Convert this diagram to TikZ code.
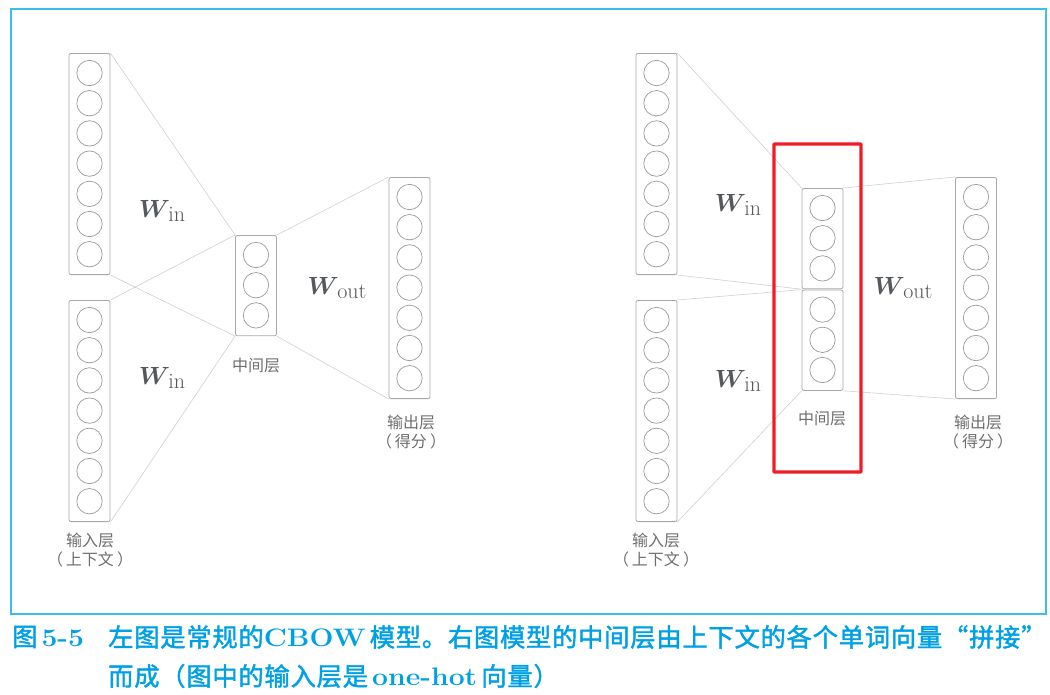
\documentclass[tikz,border=0pt]{standalone}
\usepackage{fontspec}
\usepackage{bm}
\newfontfamily\cjk{Noto Sans CJK SC}
\newfontfamily\cjkmed[FakeBold=1.6,LetterSpace=3]{Noto Sans CJK SC}
\definecolor{boxgray}{HTML}{A8A8A8}
\definecolor{circgray}{HTML}{9A9A9A}
\definecolor{linegray}{HTML}{CFCFCF}
\definecolor{labgray}{HTML}{6E6E6E}
\definecolor{wgray}{HTML}{55585C}
\definecolor{capblue}{RGB}{0,160,228}
\definecolor{frameblue}{RGB}{60,190,235}
\definecolor{hired}{HTML}{EE1C25}
\tikzset{
  colbox/.style={draw=boxgray, rounded corners=2pt, minimum width=41pt, inner sep=0pt, line width=0.8pt},
  unit/.style={draw=circgray, circle, minimum size=25.4pt, inner sep=0pt, line width=0.7pt},
  conn/.style={draw=linegray, line width=0.6pt},
  lab/.style={text=labgray, font=\cjk\fontsize{16}{18}\selectfont, inner sep=0pt},
  wlab/.style={text=wgray, inner sep=0pt},
  captext/.style={text=capblue, inner sep=0pt, anchor=west}
}
\newcommand\nncol[4]{%
  \pgfmathsetmacro\hh{40+30.2*(#4-1)}%
  \node[colbox, minimum height=\hh pt, anchor=north] (#1) at (#2,#3) {};
  \foreach \k in {1,...,#4} {\node[unit] (#1-\k) at (#2,{#3+20+30.2*(\k-1)}) {};}
}
\newcommand\Wsym[1]{{\fontsize{29}{30}\selectfont$\bm{W}$}\kern-1.5pt\raisebox{-4pt}{\fontsize{22}{24}\selectfont #1}}
\newcommand\pl{\kern3pt}
\newcommand\latw[1]{\scalebox{1.12}[1]{\rmfamily\bfseries #1}}
\begin{document}
\begin{tikzpicture}[x=1pt,y=-1pt]
\useasboundingbox (0,0) rectangle (1050,694);
\draw[frameblue, line width=1.3pt] (11,9) rectangle (1046,614);
% ---------- left diagram
\nncol{Lin1}{89.5}{53}{7}
\nncol{Lin2}{89.5}{300}{7}
\nncol{Lmid}{256}{235}{3}
\nncol{Lout}{409.5}{177}{7}
\draw[conn] (Lin1.north east) -- (Lmid.north west);
\draw[conn] (Lin1.south east) -- (Lmid.south west);
\draw[conn] (Lin2.north east) -- (Lmid.north west);
\draw[conn] (Lin2.south east) -- (Lmid.south west);
\draw[conn] (Lmid.north east) -- (Lout.north west);
\draw[conn] (Lmid.south east) -- (Lout.south west);
\node[wlab] (LW1) at (162,211) {\Wsym{in}};
\node[wlab] (LW2) at (162,378) {\Wsym{in}};
\node[wlab] (LW3) at (337,288) {\Wsym{out}};
\node[lab] (Lmidlab) at (256,365) {中间层};
\node[lab] (Loutlab1) at (411,422) {输出层};
\node[lab] (Loutlab2) at (411,441) {（\pl 得分\pl ）};
\node[lab] (Linlab1) at (90,540) {输入层};
\node[lab] (Linlab2) at (90,559) {（\pl 上下文\pl ）};
% ---------- right diagram
\nncol{Rin1}{656.5}{53}{7}
\nncol{Rin2}{656.5}{300}{7}
\nncol{RmidA}{822.5}{188}{3}
\nncol{RmidB}{822.5}{289.6}{3}
\nncol{Rout}{976}{177}{7}
\draw[conn] (Rin1.north east) -- (RmidA.north west);
\draw[conn] (Rin1.south east) -- (RmidA.south west);
\draw[conn] (Rin2.north east) -- (RmidB.north west);
\draw[conn] (Rin2.south east) -- (RmidB.south west);
\draw[conn] (RmidA.north east) -- (Rout.north west);
\draw[conn] (RmidB.south east) -- (Rout.south west);
\node[wlab] (RW1) at (738,205) {\Wsym{in}};
\node[wlab] (RW2) at (738,381) {\Wsym{in}};
\node[wlab] (RW3) at (903,288) {\Wsym{out}};
\node[lab] (Rmidlab) at (822,418) {中间层};
\node[lab] (Routlab1) at (978,422) {输出层};
\node[lab] (Routlab2) at (978,441) {（\pl 得分\pl ）};
\node[lab] (Rinlab1) at (656,540) {输入层};
\node[lab] (Rinlab2) at (656,559) {（\pl 上下文\pl ）};
\draw[hired, line width=3.3pt, rounded corners=0.8pt] (774,144) rectangle (861,472);
% ---------- caption
\node[captext] (capnum) at (12,637) {\fontsize{25.3}{27}\selectfont{\cjkmed 图}\kern4pt\latw{5-5}};
\node[captext] (cap1) at (108,637) {\fontsize{25.3}{27}\selectfont\cjkmed 左图是常规的\latw{CBOW}\,模型。右图模型的中间层由上下文的各个单词向量“拼接”};
\node[captext] (cap2) at (108,676) {\fontsize{25.3}{27}\selectfont\cjkmed 而成（图中的输入层是\,\latw{one-hot}\,向量）};
\end{tikzpicture}
\end{document}
